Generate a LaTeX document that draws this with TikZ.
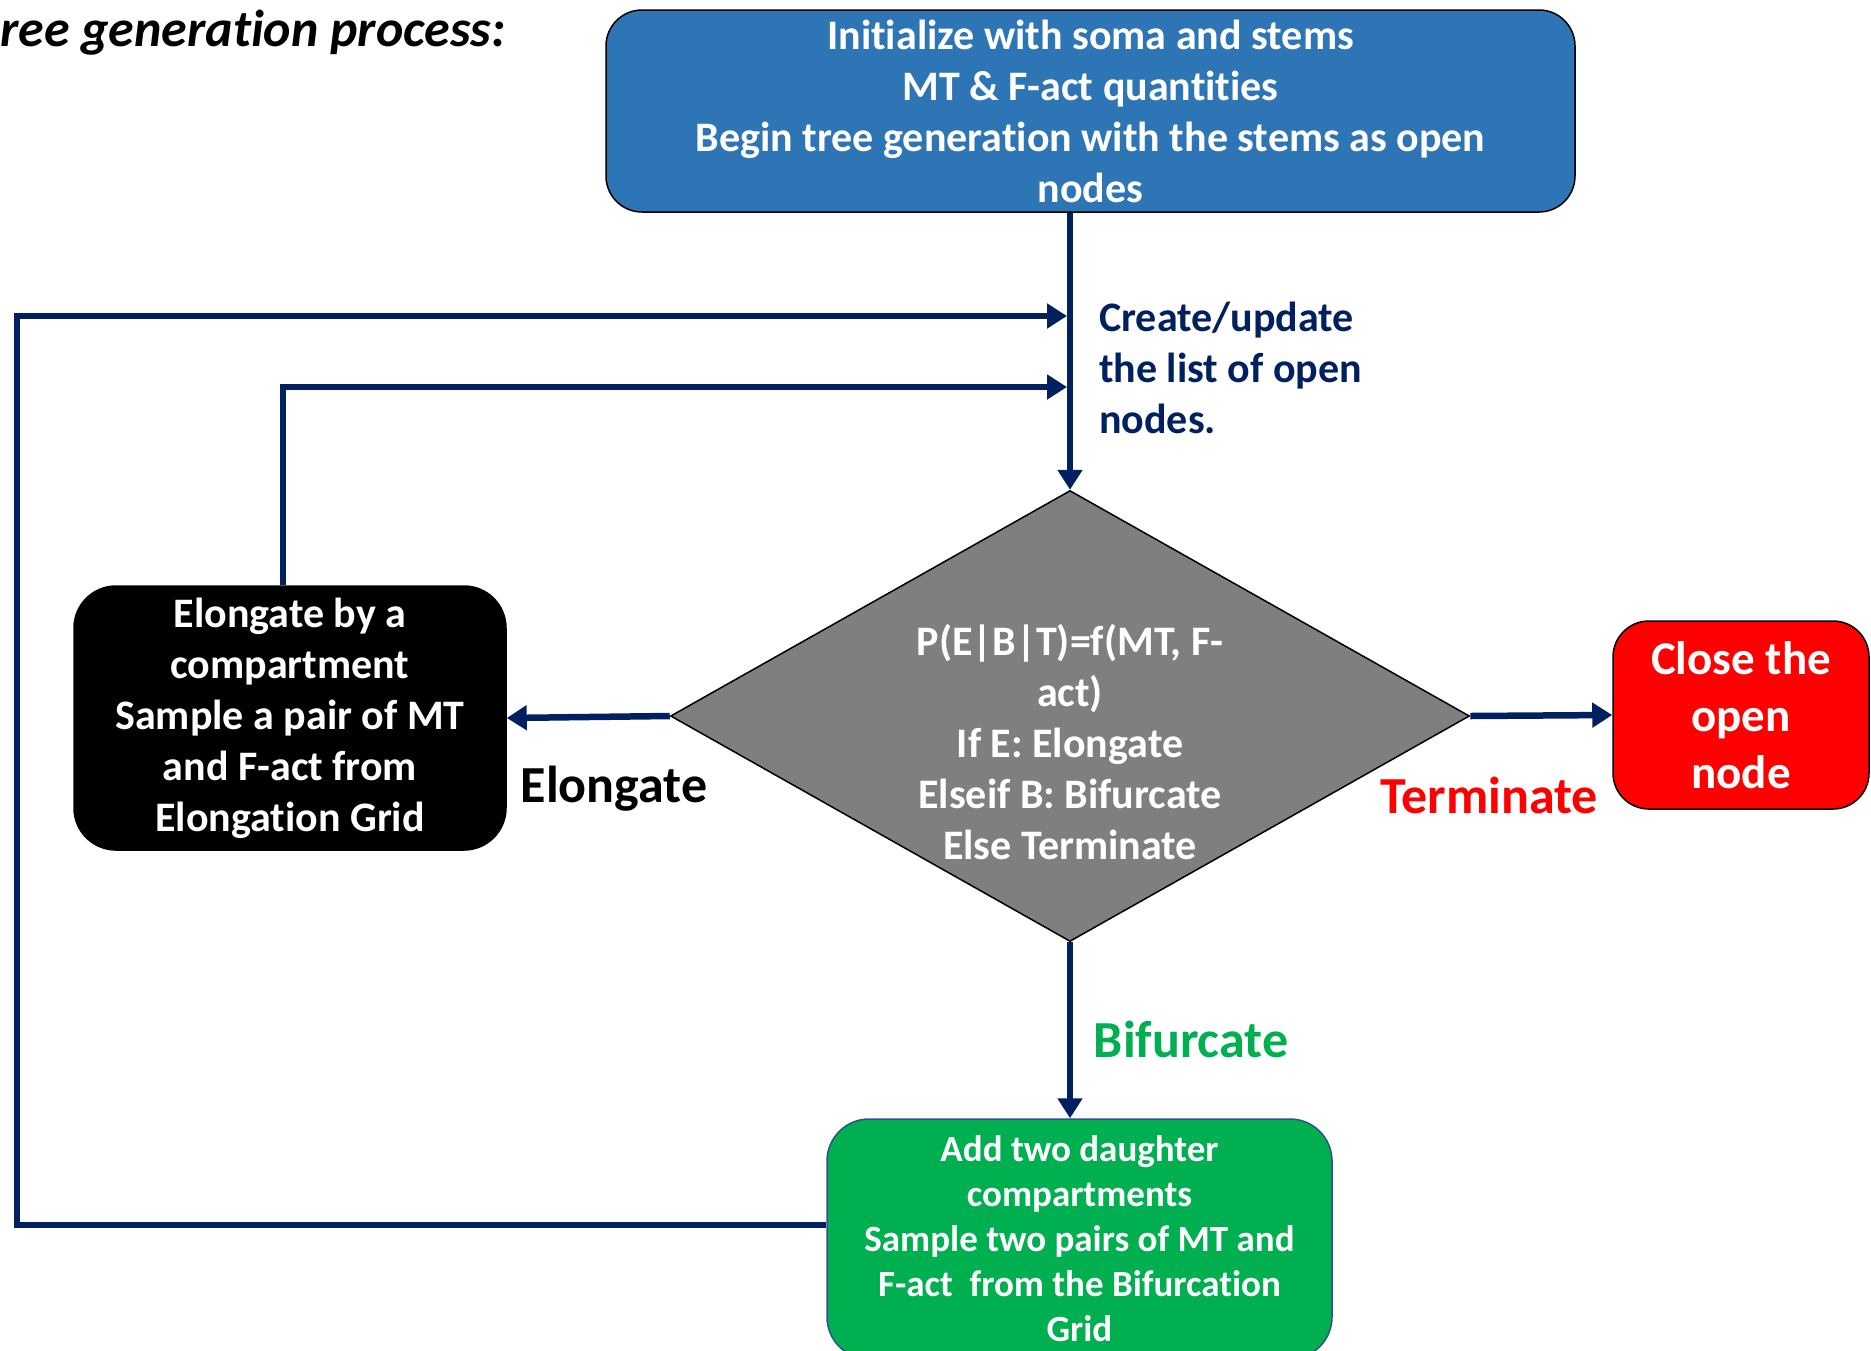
\documentclass[tikz,border=0pt]{standalone}
\usepackage{fontspec}
\setmainfont{Carlito}[Ligatures=NoCommon]
\usetikzlibrary{shapes.geometric,arrows.meta}

\definecolor{navy}{HTML}{002060}
\definecolor{boxblue}{HTML}{2E75B6}
\definecolor{boxgreen}{HTML}{00B050}
\definecolor{boxgrey}{HTML}{7F7F7F}
\definecolor{greenline}{HTML}{2F528F}

\newcommand*{\picw}{1871}
\newcommand*{\pich}{1350}

\begin{document}
\begin{tikzpicture}
[
	x=1pt,
	y=-1pt,
	every node/.style={font=\bfseries},
	box/.style={rectangle,rounded corners=36pt,draw=black,line width=1.5pt,text=white,align=center,inner sep=0pt},
	flow/.style={draw=navy,line width=6.5pt,-{Triangle[length=20pt,width=24pt]}},
	txt/.style={inner sep=0pt}
]

	\useasboundingbox (0,0) rectangle (\picw,\pich);

	% title
	\node[txt,anchor=west,font=\bfseries\itshape\fontsize{52}{60}\selectfont] (title) at (0,33) {ree generation process:};

	% boxes
	\node[box,fill=boxblue,minimum width=969pt,minimum height=202pt,font=\bfseries\fontsize{42}{51}\selectfont] (init) at (1090.5,111)
	  {Initialize with soma and stems\\ MT \& F-act quantities\\ Begin tree generation with the stems as open\\ nodes};
	\node[box,fill=black,rounded corners=42pt,minimum width=432pt,minimum height=264pt,font=\bfseries\fontsize{42}{51}\selectfont] (elong) at (290,718)
	  {Elongate by a\\ compartment\\ Sample a pair of MT\\ and F-act from\\ Elongation Grid};
	\node[box,fill=red,minimum width=256pt,minimum height=188pt,font=\bfseries\fontsize{47}{57}\selectfont] (close) at (1741,715)
	  {Close the\\ open\\ node};
	\node[box,fill=boxgreen,draw=greenline,rounded corners=42pt,minimum width=505pt,minimum height=240pt,font=\bfseries\fontsize{37}{45}\selectfont] (grow) at (1079.5,1239)
	  {Add two daughter\\ compartments\\ Sample two pairs of MT and\\ F-act\ \ from the Bifurcation\\ Grid};

	% decision
	\node[diamond,draw=black,line width=1.5pt,fill=boxgrey,minimum width=799pt,minimum height=451pt,inner sep=0pt] (dec) at (1070,716) {};
	\node[txt,text=white,align=center,font=\bfseries\fontsize{42}{51}\selectfont] (dectext) at (1070,742)
	  {P(E|B|T)=f(MT, F-\\ act)\\ If E: Elongate\\ Elseif B: Bifurcate\\ Else Terminate};

	% joins on the main line
	\coordinate (in1) at (1067,316);
	\coordinate (in2) at (1067,387);
	\coordinate (corner1) at (17,316);
	\coordinate (corner2) at (283,387);

	% arrows
	\draw[flow] (dec.north |- init.south) -- (dec.north);
	\draw[flow] (grow.west |- 0,1225) -| (corner1) -- (in1);
	\draw[flow] (elong.north -| corner2) -- (corner2) -- (in2);
	\draw[flow] (dec.west) -- (elong.east);
	\draw[flow] (dec.east) -- (close.west);
	\draw[flow] (dec.south) -- (dec.south |- grow.north);

	% labels
	\node[txt,anchor=west,align=left,text=navy,font=\bfseries\fontsize{42}{51}\selectfont] (update) at (1099,368)
	  {Create/update\\ the list of open\\ nodes.};
	\node[txt,text=black,font=\bfseries\fontsize{52}{60}\selectfont] (elab) at (614,789) {Elongate};
	\node[txt,text=red,font=\bfseries\fontsize{52}{60}\selectfont] (tlab) at (1489,795) {Terminate};
	\node[txt,text=boxgreen,font=\bfseries\fontsize{52}{60}\selectfont] (blab) at (1191,1039) {Bifurcate};

\end{tikzpicture}
\end{document}
